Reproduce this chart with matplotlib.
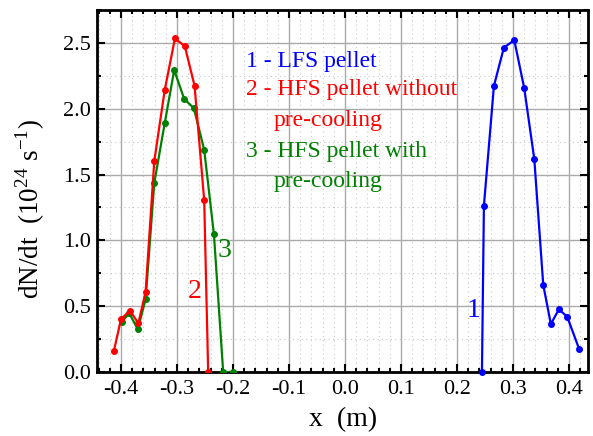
import matplotlib
matplotlib.use("Agg")
import matplotlib.pyplot as plt
from matplotlib.ticker import MultipleLocator

plt.rcParams["font.family"] = ["Liberation Serif", "DejaVu Serif"]
plt.rcParams["mathtext.fontset"] = "custom"
plt.rcParams["mathtext.rm"] = "Liberation Serif"

# LFS pellet
x1 = [0.2447, 0.2482, 0.2661, 0.2839, 0.3025, 0.3203, 0.3382, 0.3542, 0.3678, 0.382, 0.397, 0.4185]
y1 = [0.0, 1.263, 2.174, 2.465, 2.521, 2.154, 1.617, 0.661, 0.364, 0.476, 0.42, 0.172]

# HFS pellet without pre-cooling
x2 = [-0.4126, -0.400, -0.384, -0.369, -0.356, -0.3406, -0.322, -0.3037, -0.286, -0.2686, -0.2514, -0.2443]
y2 = [0.162, 0.402, 0.466, 0.37, 0.61, 1.60, 2.14, 2.534, 2.475, 2.174, 1.304, 0.0]

# HFS pellet with pre-cooling
x3 = [-0.399, -0.385, -0.370, -0.356, -0.3406, -0.322, -0.305, -0.287, -0.270, -0.2514, -0.234, -0.2175, -0.1997]
y3 = [0.382, 0.445, 0.324, 0.554, 1.435, 1.888, 2.293, 2.073, 2.005, 1.688, 1.045, 0.0, 0.0]

xticks = [-0.4, -0.3, -0.2, -0.1, 0.0, 0.1, 0.2, 0.3, 0.4]
yticks = [0.0, 0.5, 1.0, 1.5, 2.0, 2.5]

fig = plt.figure(figsize=(5.93, 4.36), dpi=100)
ax = fig.add_axes([0.1644, 0.1468, 0.9924 - 0.1644, 0.977 - 0.1468])

ax.plot(x3, y3, "-o", color="#008000", lw=1.6, ms=4, zorder=3)
ax.plot(x2, y2, "-o", color="#ff0000", lw=1.6, ms=4, zorder=4)
ax.plot(x1, y1, "-o", color="#0000ff", lw=1.6, ms=4, zorder=4, clip_on=False)

ax.set_xlim(-0.442, 0.435)
ax.set_ylim(0, 2.75)
ax.set_xticks(xticks)
ax.set_yticks(yticks)
ax.xaxis.set_minor_locator(MultipleLocator(0.02))
ax.yaxis.set_minor_locator(MultipleLocator(0.25))
ax.set_xticklabels(["%.1f" % v for v in xticks])
ax.set_yticklabels(["%.1f" % v for v in yticks])

ax.grid(which="major", color="#aaaaaa", lw=1.0, ls="-")
ax.grid(which="minor", color="#c8c8c8", lw=0.8, ls=(0, (1, 3)))
ax.set_axisbelow(True)

ax.tick_params(which="both", direction="in", top=True, right=True, width=1.5, labelsize=16)
ax.tick_params(which="major", length=6)
ax.tick_params(axis="x", which="major", pad=6)
ax.tick_params(axis="y", which="major", pad=5)
ax.tick_params(which="minor", length=3)
for s in ax.spines.values():
    s.set_linewidth(2)

ax.set_xlabel("x  (m)", fontsize=20)
ax.set_ylabel(r"dN/dt  (10$^{24}$ s$^{-1}$)", fontsize=19.5)
ax.xaxis.set_label_coords(0.5, -0.098)
ax.yaxis.set_label_coords(-0.103, 0.45)

fs = 17
ax.text(-0.177, 2.318, "1 - LFS pellet", color="#0000ff", fontsize=fs)
ax.text(-0.177, 2.103, "2 - HFS pellet without", color="#ff0000", fontsize=fs)
ax.text(-0.127, 1.868, "pre-cooling", color="#ff0000", fontsize=fs)
ax.text(-0.177, 1.635, "3 - HFS pellet with", color="#008000", fontsize=fs)
ax.text(-0.127, 1.407, "pre-cooling", color="#008000", fontsize=fs)

ax.text(-0.2806, 0.562, "2", color="#ff0000", fontsize=20)
ax.text(-0.227, 0.873, "3", color="#008000", fontsize=20)
ax.text(0.2168, 0.42, "1", color="#0000ff", fontsize=20)

fig.savefig("out.png", dpi=100)
